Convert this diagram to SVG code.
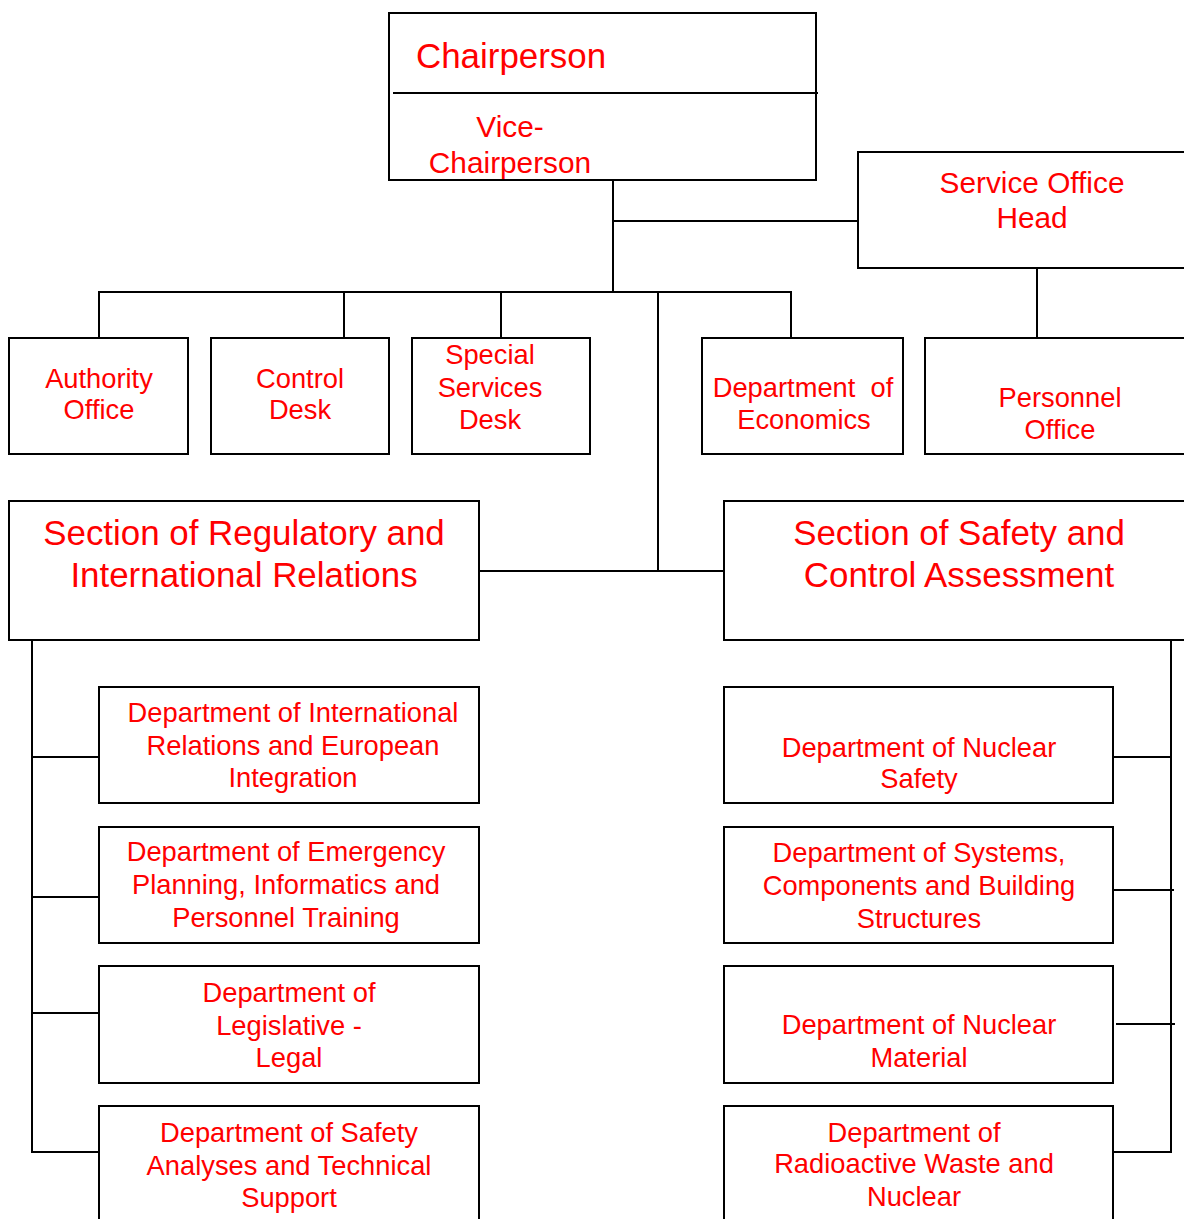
<svg xmlns="http://www.w3.org/2000/svg" width="1184" height="1219" viewBox="0 0 1184 1219">
<style>
rect.box{fill:#fff;stroke:#000;stroke-width:2}
#connectors line,#connectors polyline{stroke:#000;stroke-width:2;fill:none}
text{font-family:"Liberation Sans",Arial,sans-serif;fill:#ff0000;text-anchor:middle;font-size:27.3px}
text.big{font-size:34.9px}
text.mid{font-size:29.8px}
</style>
<rect width="1184" height="1219" fill="#fff"/>
<g id="connectors">
<line x1="613" y1="175" x2="613" y2="292"/>
<line x1="613" y1="221" x2="858" y2="221"/>
<line x1="98" y1="292" x2="792" y2="292"/>
<line x1="99" y1="292" x2="99" y2="338"/>
<line x1="344" y1="292" x2="344" y2="338"/>
<line x1="501" y1="292" x2="501" y2="338"/>
<line x1="791" y1="292" x2="791" y2="338"/>
<line x1="658" y1="292" x2="658" y2="571"/>
<line x1="479" y1="571" x2="724" y2="571"/>
<line x1="1037" y1="268" x2="1037" y2="338"/>
<polyline points="32,640 32,1152 99,1152"/>
<line x1="32" y1="757" x2="99" y2="757"/>
<line x1="32" y1="897" x2="99" y2="897"/>
<line x1="32" y1="1013" x2="99" y2="1013"/>
<polyline points="1171,640 1171,1152 1113,1152"/>
<line x1="1113" y1="757" x2="1171" y2="757"/>
<line x1="1113" y1="890" x2="1174" y2="890"/>
<line x1="1116" y1="1024" x2="1175" y2="1024"/>
</g>
<g id="chairperson">
<rect class="box" x="389" y="13" width="427" height="167"/>
<line x1="393" y1="93" x2="818" y2="93" stroke="#000" stroke-width="2"/>
<text class="big" x="416" y="68" style="text-anchor:start">Chairperson</text>
<text class="mid" x="510" y="137">Vice-</text>
<text class="mid" x="510" y="173">Chairperson</text>
</g>
<g id="service-office">
<rect class="box" x="858" y="152" width="340" height="116"/>
<text class="mid" x="1032" y="193">Service Office</text>
<text class="mid" x="1032" y="228">Head</text>
</g>
<g id="authority-office">
<rect class="box" x="9" y="338" width="179" height="116"/>
<text x="99" y="388">Authority</text>
<text x="99" y="419">Office</text>
</g>
<g id="control-desk">
<rect class="box" x="211" y="338" width="178" height="116"/>
<text x="300" y="388">Control</text>
<text x="300" y="419">Desk</text>
</g>
<g id="special-services-desk">
<rect class="box" x="412" y="338" width="178" height="116"/>
<text x="490" y="364">Special</text>
<text x="490" y="397">Services</text>
<text x="490" y="429">Desk</text>
</g>
<g id="dept-economics">
<rect class="box" x="702" y="338" width="201" height="116"/>
<text x="803" y="397" xml:space="preserve">Department  of</text>
<text x="804" y="429">Economics</text>
</g>
<g id="personnel-office">
<rect class="box" x="925" y="338" width="270" height="116"/>
<text x="1060" y="407">Personnel</text>
<text x="1060" y="439">Office</text>
</g>
<g id="section-regulatory">
<rect class="box" x="9" y="501" width="470" height="139"/>
<text class="big" x="244" y="545">Section of Regulatory and</text>
<text class="big" x="244" y="587">International Relations</text>
</g>
<g id="section-safety">
<rect class="box" x="724" y="501" width="470" height="139"/>
<text class="big" x="959" y="545">Section of Safety and</text>
<text class="big" x="959" y="587">Control Assessment</text>
</g>
<g id="dept-international">
<rect class="box" x="99" y="687" width="380" height="116"/>
<text x="293" y="722">Department of International</text>
<text x="293" y="755">Relations and European</text>
<text x="293" y="787">Integration</text>
</g>
<g id="dept-emergency">
<rect class="box" x="99" y="827" width="380" height="116"/>
<text x="286" y="861">Department of Emergency</text>
<text x="286" y="894">Planning, Informatics and</text>
<text x="286" y="927">Personnel Training</text>
</g>
<g id="dept-legislative">
<rect class="box" x="99" y="966" width="380" height="117"/>
<text x="289" y="1002">Department of</text>
<text x="289" y="1035">Legislative -</text>
<text x="289" y="1067">Legal</text>
</g>
<g id="dept-safety-analyses">
<rect class="box" x="99" y="1106" width="380" height="125"/>
<text x="289" y="1142">Department of Safety</text>
<text x="289" y="1175">Analyses and Technical</text>
<text x="289" y="1207">Support</text>
</g>
<g id="dept-nuclear-safety">
<rect class="box" x="724" y="687" width="389" height="116"/>
<text x="919" y="757">Department of Nuclear</text>
<text x="919" y="788">Safety</text>
</g>
<g id="dept-systems">
<rect class="box" x="724" y="827" width="389" height="116"/>
<text x="919" y="862">Department of Systems,</text>
<text x="919" y="895">Components and Building</text>
<text x="919" y="928">Structures</text>
</g>
<g id="dept-nuclear-material">
<rect class="box" x="724" y="966" width="389" height="117"/>
<text x="919" y="1034">Department of Nuclear</text>
<text x="919" y="1067">Material</text>
</g>
<g id="dept-radioactive-waste">
<rect class="box" x="724" y="1106" width="389" height="125"/>
<text x="914" y="1142">Department of</text>
<text x="914" y="1173">Radioactive Waste and</text>
<text x="914" y="1206">Nuclear</text>
</g>
</svg>
